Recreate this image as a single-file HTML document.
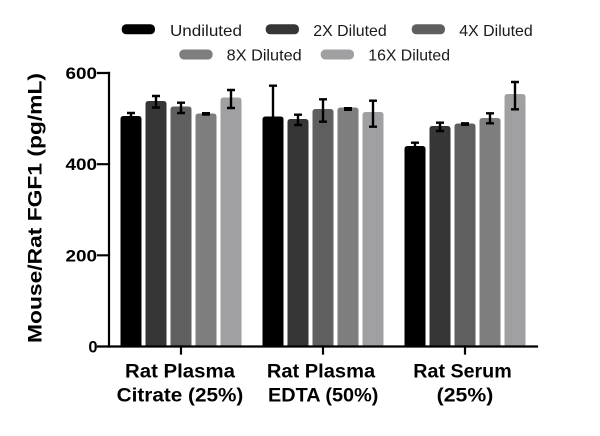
<!DOCTYPE html>
<html>
<head>
<meta charset="utf-8">
<style>
  html, body { margin: 0; padding: 0; background: #ffffff; }
  svg { display: block; }
  text { font-family: "Liberation Sans", "DejaVu Sans", sans-serif; }
</style>
</head>
<body>
<svg width="600" height="436" viewBox="0 0 600 436" xmlns="http://www.w3.org/2000/svg">
  <rect x="0" y="0" width="600" height="436" fill="#ffffff"/>

  <!-- Legend -->
  <g>
    <rect x="121.7" y="24.3" width="33.3" height="10" rx="4.5" fill="#000000"/>
    <text x="170" y="36" font-size="16" fill="#1a1a1a" textLength="72" lengthAdjust="spacingAndGlyphs">Undiluted</text>
    <rect x="265.7" y="24.3" width="33.3" height="10" rx="4.5" fill="#363636"/>
    <text x="313.3" y="36" font-size="16" fill="#1a1a1a" textLength="73.4" lengthAdjust="spacingAndGlyphs">2X Diluted</text>
    <rect x="411.7" y="24.3" width="33.3" height="10" rx="4.5" fill="#5f5f5f"/>
    <text x="459.3" y="36" font-size="16" fill="#1a1a1a" textLength="73.4" lengthAdjust="spacingAndGlyphs">4X Diluted</text>
    <rect x="179.3" y="49.5" width="33.3" height="10" rx="4.5" fill="#7e7e7e"/>
    <text x="226.7" y="60.7" font-size="16" fill="#1a1a1a" textLength="75" lengthAdjust="spacingAndGlyphs">8X Diluted</text>
    <rect x="320.7" y="49.5" width="33.3" height="10" rx="4.5" fill="#a0a0a3"/>
    <text x="368.3" y="60.7" font-size="16" fill="#1a1a1a" textLength="81.7" lengthAdjust="spacingAndGlyphs">16X Diluted</text>
  </g>

  <!-- Bars -->
  <g>
    <!-- Group 1 center 181 -->
    <path d="M120.5,347 V119 Q120.5,116 123.5,116 H138.5 Q141.5,116 141.5,119 V347 Z" fill="#000000"/>
    <path d="M145.5,347 V104 Q145.5,101 148.5,101 H163.5 Q166.5,101 166.5,104 V347 Z" fill="#363636"/>
    <path d="M170.5,347 V109.5 Q170.5,106.5 173.5,106.5 H188.5 Q191.5,106.5 191.5,109.5 V347 Z" fill="#5f5f5f"/>
    <path d="M195.5,347 V116.5 Q195.5,113.5 198.5,113.5 H213.5 Q216.5,113.5 216.5,116.5 V347 Z" fill="#7e7e7e"/>
    <path d="M220.5,347 V100.5 Q220.5,97.5 223.5,97.5 H238.5 Q241.5,97.5 241.5,100.5 V347 Z" fill="#a0a0a3"/>

    <!-- Group 2 center 323 -->
    <path d="M262.5,347 V119.5 Q262.5,116.5 265.5,116.5 H280.5 Q283.5,116.5 283.5,119.5 V347 Z" fill="#000000"/>
    <path d="M287.5,347 V122 Q287.5,119 290.5,119 H305.5 Q308.5,119 308.5,122 V347 Z" fill="#363636"/>
    <path d="M312.5,347 V112 Q312.5,109 315.5,109 H330.5 Q333.5,109 333.5,112 V347 Z" fill="#5f5f5f"/>
    <path d="M337.5,347 V110.5 Q337.5,107.5 340.5,107.5 H355.5 Q358.5,107.5 358.5,110.5 V347 Z" fill="#7e7e7e"/>
    <path d="M362.5,347 V115 Q362.5,112 365.5,112 H380.5 Q383.5,112 383.5,115 V347 Z" fill="#a0a0a3"/>

    <!-- Group 3 center 465 -->
    <path d="M404.5,347 V149 Q404.5,146 407.5,146 H422.5 Q425.5,146 425.5,149 V347 Z" fill="#000000"/>
    <path d="M429.5,347 V129 Q429.5,126 432.5,126 H447.5 Q450.5,126 450.5,129 V347 Z" fill="#363636"/>
    <path d="M454.5,347 V126.5 Q454.5,123.5 457.5,123.5 H472.5 Q475.5,123.5 475.5,126.5 V347 Z" fill="#5f5f5f"/>
    <path d="M479.5,347 V121 Q479.5,118 482.5,118 H497.5 Q500.5,118 500.5,121 V347 Z" fill="#7e7e7e"/>
    <path d="M504.5,347 V97 Q504.5,94 507.5,94 H522.5 Q525.5,94 525.5,97 V347 Z" fill="#a0a0a3"/>
  </g>

  <!-- Error bars -->
  <g stroke="#000000" stroke-width="2.4" fill="none">
    <!-- G1 -->
    <path d="M131,113 V119 M127,113 H135"/>
    <path d="M156,96 V107.5 M152,96 H160 M152,107.5 H160"/>
    <path d="M181,102.7 V113 M177,102.7 H185 M177,113 H185"/>
    <path d="M206,113 V114.5 M202,113.2 H210 M202,114.5 H210"/>
    <path d="M231,90 V108 M227,90 H235 M227,108 H235"/>
    <!-- G2 -->
    <path d="M273,85.7 V148 M269,85.7 H277"/>
    <path d="M298,114.7 V125 M294,114.7 H302 M294,125 H302"/>
    <path d="M323,99.3 V121.7 M319,99.3 H327 M319,121.7 H327"/>
    <path d="M348,108.2 V109.8 M344,108.2 H352 M344,109.8 H352"/>
    <path d="M373,100.7 V126.7 M369,100.7 H377 M369,126.7 H377"/>
    <!-- G3 -->
    <path d="M415,142.7 V149 M411,142.7 H419"/>
    <path d="M440,122.7 V131 M436,122.7 H444 M436,131 H444"/>
    <path d="M465,123.3 V124.8 M461,123.3 H469 M461,124.8 H469"/>
    <path d="M490,113.3 V123.3 M486,113.3 H494 M486,123.3 H494"/>
    <path d="M515,82 V109.3 M511,82 H519 M511,109.3 H519"/>
  </g>

  <!-- Axes -->
  <g stroke="#000000" stroke-width="2.2" fill="none" stroke-linecap="square">
    <path d="M109,73 V346.5 H537"/>
    <path d="M98,73 H109 M98,164.2 H109 M98,255.3 H109 M98,346.5 H109"/>
    <path d="M181,346.5 V353.5 M323,346.5 V353.5 M465,346.5 V353.5"/>
  </g>

  <!-- Y tick labels -->
  <g font-size="16.5" font-weight="bold" fill="#000000" text-anchor="end">
    <text x="97" y="79" textLength="31.5" lengthAdjust="spacingAndGlyphs">600</text>
    <text x="97" y="170.2" textLength="31.5" lengthAdjust="spacingAndGlyphs">400</text>
    <text x="97" y="261.3" textLength="31.5" lengthAdjust="spacingAndGlyphs">200</text>
    <text x="97.5" y="352.5">0</text>
  </g>

  <!-- Y axis title -->
  <text transform="translate(41.5,208) rotate(-90)" font-size="19" font-weight="bold" fill="#000000" text-anchor="middle" textLength="270" lengthAdjust="spacingAndGlyphs">Mouse/Rat FGF1 (pg/mL)</text>

  <!-- Category labels -->
  <g font-size="19" font-weight="bold" fill="#000000" text-anchor="middle">
    <text x="180" y="377.3" textLength="110" lengthAdjust="spacingAndGlyphs">Rat Plasma</text>
    <text x="180" y="401.5" textLength="126.7" lengthAdjust="spacingAndGlyphs">Citrate (25%)</text>
    <text x="321" y="377.3" textLength="108.3" lengthAdjust="spacingAndGlyphs">Rat Plasma</text>
    <text x="323.2" y="401.5" textLength="110.3" lengthAdjust="spacingAndGlyphs">EDTA (50%)</text>
    <text x="462.5" y="377.3" textLength="98.4" lengthAdjust="spacingAndGlyphs">Rat Serum</text>
    <text x="465" y="401.5" textLength="56.6" lengthAdjust="spacingAndGlyphs">(25%)</text>
  </g>
</svg>
</body>
</html>
